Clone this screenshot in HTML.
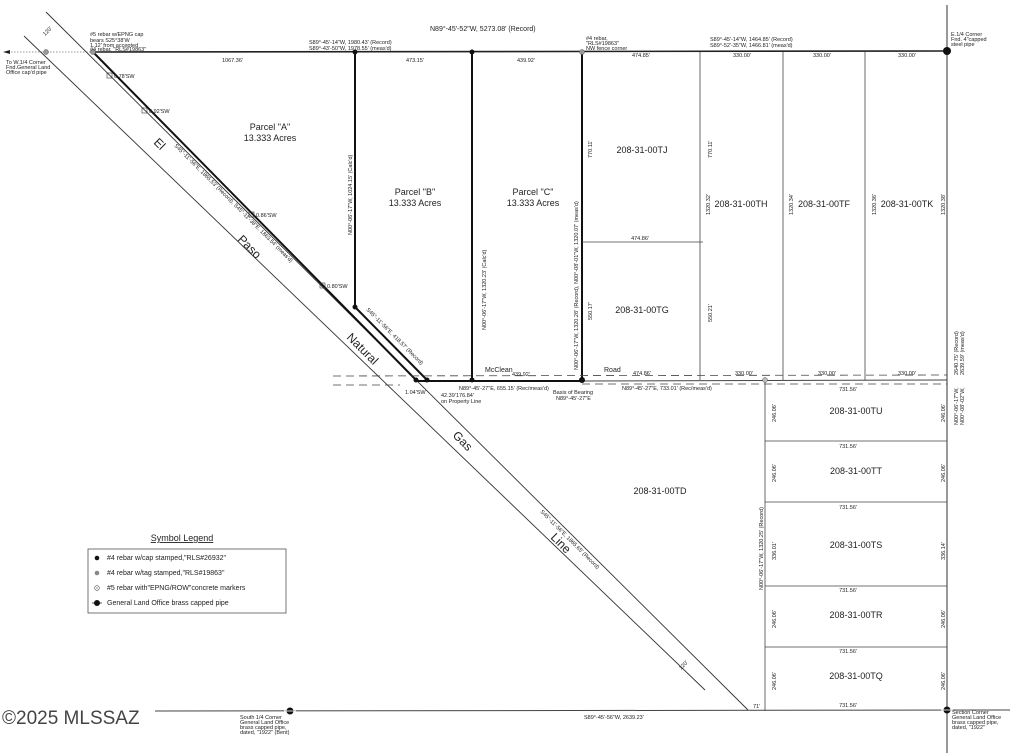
<!DOCTYPE html>
<html><head><meta charset="utf-8"><style>
html,body{margin:0;padding:0;background:#fff;}
svg{display:block;font-family:"Liberation Sans",sans-serif;}
.s{font-size:5.5px;fill:#222;}
.m{font-size:7px;fill:#222;}
.l{font-size:9px;fill:#222;}
.b{font-size:12px;fill:#222;}
</style></head><body>
<svg width="1024" height="753" viewBox="0 0 1024 753" xmlns="http://www.w3.org/2000/svg">
<rect width="1024" height="753" fill="#fff"/>
<!-- top line -->
<line x1="5" y1="52" x2="93" y2="52" stroke="#777" stroke-width="0.8" stroke-dasharray="1.5,1.5"/>
<path d="M3 52 L10 50 L10 54 Z" fill="#222"/>
<line x1="93" y1="52" x2="947" y2="51" stroke="#222" stroke-width="1.6"/>
<line x1="947" y1="5" x2="947" y2="753" stroke="#333" stroke-width="1"/>
<!-- bottom line -->
<line x1="155" y1="711" x2="1010" y2="710" stroke="#444" stroke-width="1"/>
<!-- gas line -->
<line x1="46" y1="12" x2="748" y2="710" stroke="#333" stroke-width="0.9"/>
<line x1="24" y1="36" x2="705" y2="690" stroke="#333" stroke-width="0.9"/>
<!-- parcel A diag -->
<line x1="93" y1="52" x2="416" y2="380" stroke="#111" stroke-width="2"/>
<line x1="355" y1="307" x2="427" y2="380" stroke="#111" stroke-width="2"/>
<!-- thick verticals -->
<line x1="355" y1="52" x2="355" y2="307" stroke="#111" stroke-width="2"/>
<line x1="472" y1="52" x2="472" y2="380" stroke="#111" stroke-width="2"/>
<line x1="582" y1="52" x2="582" y2="380" stroke="#111" stroke-width="2"/>
<line x1="416" y1="381" x2="582" y2="381" stroke="#111" stroke-width="2"/>
<!-- road -->
<line x1="582" y1="381" x2="947" y2="380" stroke="#444" stroke-width="1"/>
<line x1="333" y1="376" x2="947" y2="375" stroke="#444" stroke-width="0.8" stroke-dasharray="8,5"/>
<line x1="333" y1="385" x2="400" y2="385" stroke="#444" stroke-width="0.8" stroke-dasharray="8,5"/>
<line x1="582" y1="384" x2="947" y2="384" stroke="#444" stroke-width="0.8" stroke-dasharray="8,5"/>
<!-- thin verticals -->
<line x1="700" y1="52" x2="700" y2="380" stroke="#444" stroke-width="0.8"/>
<line x1="783" y1="52" x2="783" y2="380" stroke="#444" stroke-width="0.8"/>
<line x1="865" y1="52" x2="865" y2="380" stroke="#444" stroke-width="0.8"/>
<line x1="582" y1="242" x2="703" y2="242" stroke="#444" stroke-width="0.8"/>
<!-- lower lots -->
<line x1="765" y1="381" x2="765" y2="711" stroke="#444" stroke-width="0.8"/>
<line x1="765" y1="441" x2="947" y2="441" stroke="#444" stroke-width="0.8"/>
<line x1="765" y1="502" x2="947" y2="502" stroke="#444" stroke-width="0.8"/>
<line x1="765" y1="586" x2="947" y2="586" stroke="#444" stroke-width="0.8"/>
<line x1="765" y1="647" x2="947" y2="647" stroke="#444" stroke-width="0.8"/>
<!-- dots -->
<g fill="#111">
<circle cx="355" cy="52" r="2.5"/><circle cx="472" cy="52" r="2.5"/>
<circle cx="355" cy="307" r="2.5"/><circle cx="472" cy="380" r="2.5"/>
<circle cx="582" cy="380" r="3"/><circle cx="416" cy="380" r="2.5"/><circle cx="427" cy="380" r="2.5"/>
<circle cx="947" cy="51" r="4"/>
</g>
<circle cx="582" cy="52" r="2.5" fill="#999" stroke="#555" stroke-width="0.5"/>
<circle cx="46" cy="52" r="2.5" fill="#999" stroke="#555" stroke-width="0.5"/>
<circle cx="93" cy="52" r="2.5" fill="#999" stroke="#555" stroke-width="0.5"/>
<circle cx="765" cy="380" r="2.5" fill="#bbb" stroke="#555" stroke-width="0.5"/>
<circle cx="947" cy="710" r="3.5" fill="#111"/><line x1="941" y1="710" x2="953" y2="710" stroke="#fff" stroke-width="0.8"/>
<circle cx="290" cy="711" r="3.5" fill="#111"/><line x1="284" y1="711" x2="296" y2="711" stroke="#fff" stroke-width="0.8"/>
<!-- small boxes -->
<g fill="none" stroke="#333" stroke-width="0.6">
<rect x="107" y="73" width="5" height="5"/><rect x="142" y="108" width="5" height="5"/>
<rect x="249" y="212" width="5" height="5"/><rect x="320" y="283" width="5" height="5"/>
</g>
<text class="s" x="114" y="78">0.78'SW</text>
<text class="s" x="149" y="113">0.92'SW</text>
<text class="s" x="256" y="217">0.86'SW</text>
<text class="s" x="327" y="288">0.80'SW</text>
<!-- top labels -->
<text class="s" x="90" y="36">#5 rebar w/EPNG cap</text>
<text class="s" x="90" y="42">bears S25°38'W</text>
<text class="s" x="90" y="47">1.12' from accepted</text>
<text class="s" x="90" y="51">#4 rebar, "RLS#19863"</text>
<text class="s" x="6" y="64">To W.1/4 Corner</text>
<text class="s" x="6" y="69">Fnd.General Land</text>
<text class="s" x="6" y="74">Office cap'd pipe</text>
<text class="s" x="45" y="36" transform="rotate(-45 45 36)">120'</text>
<text class="m" x="430" y="31">N89°-45'-52"W, 5273.08' (Record)</text>
<text class="s" x="309" y="44">S89°-45'-14"W, 1980.43' (Record)</text>
<text class="s" x="309" y="50">S89°-43'-50"W, 1978.55' (meas'd)</text>
<text class="s" x="222" y="62">1067.36'</text>
<text class="s" x="406" y="62">473.15'</text>
<text class="s" x="517" y="62">439.92'</text>
<text class="s" x="586" y="40">#4 rebar,</text>
<text class="s" x="586" y="45">"RLS#19863"</text>
<text class="s" x="586" y="50">NW fence corner</text>
<text class="s" x="632" y="57">474.85'</text>
<text class="s" x="710" y="41">S89°-45'-14"W, 1464.85' (Record)</text>
<text class="s" x="710" y="47">S89°-52'-35"W, 1466.81' (meas'd)</text>
<text class="s" x="733" y="57">330.00'</text>
<text class="s" x="813" y="57">330.00'</text>
<text class="s" x="898" y="57">330.00'</text>
<text class="s" x="951" y="36">E.1/4 Corner</text>
<text class="s" x="951" y="41">Fnd. 4"capped</text>
<text class="s" x="951" y="46">steel pipe</text>
<!-- parcels -->
<text class="l" x="270" y="130" text-anchor="middle">Parcel "A"</text>
<text class="l" x="270" y="141" text-anchor="middle">13.333 Acres</text>
<text class="l" x="415" y="195" text-anchor="middle">Parcel "B"</text>
<text class="l" x="415" y="206" text-anchor="middle">13.333 Acres</text>
<text class="l" x="533" y="195" text-anchor="middle">Parcel "C"</text>
<text class="l" x="533" y="206" text-anchor="middle">13.333 Acres</text>
<text class="l" x="642" y="153" text-anchor="middle">208-31-00TJ</text>
<text class="l" x="642" y="313" text-anchor="middle">208-31-00TG</text>
<text class="l" x="741" y="207" text-anchor="middle">208-31-00TH</text>
<text class="l" x="824" y="207" text-anchor="middle">208-31-00TF</text>
<text class="l" x="907" y="207" text-anchor="middle">208-31-00TK</text>
<text class="l" x="856" y="414" text-anchor="middle">208-31-00TU</text>
<text class="l" x="856" y="474" text-anchor="middle">208-31-00TT</text>
<text class="l" x="856" y="548" text-anchor="middle">208-31-00TS</text>
<text class="l" x="856" y="618" text-anchor="middle">208-31-00TR</text>
<text class="l" x="856" y="679" text-anchor="middle">208-31-00TQ</text>
<text class="l" x="660" y="494" text-anchor="middle">208-31-00TD</text>
<!-- vertical labels -->
<text class="s" transform="translate(352 235) rotate(-90)">N00°-06'-17"W, 1024.15' (Calc'd)</text>
<text class="s" transform="translate(486 330) rotate(-90)">N00°-06'-17"W, 1320.23' (Calc'd)</text>
<text class="s" transform="translate(578 370) rotate(-90)">N00°-06'-17"W, 1320.28' (Record), N00°-08'-01"W, 1320.07' (meas'd)</text>
<text class="s" transform="translate(592 158) rotate(-90)">770.11'</text>
<text class="s" transform="translate(592 320) rotate(-90)">550.17'</text>
<text class="s" transform="translate(712 158) rotate(-90)">770.11'</text>
<text class="s" transform="translate(712 322) rotate(-90)">550.21'</text>
<text class="s" transform="translate(710 215) rotate(-90)">1320.32'</text>
<text class="s" transform="translate(793 215) rotate(-90)">1320.34'</text>
<text class="s" transform="translate(876 215) rotate(-90)">1320.36'</text>
<text class="s" transform="translate(945 215) rotate(-90)">1320.38'</text>
<text class="s" transform="translate(958 375) rotate(-90)">2640.75' (Record)</text>
<text class="s" transform="translate(964 375) rotate(-90)">2639.59' (meas'd)</text>
<text class="s" transform="translate(958 425) rotate(-90)">N00°-06'-17"W,</text>
<text class="s" transform="translate(964 425) rotate(-90)">N00°-08'-02"W,</text>
<text class="s" transform="translate(763 590) rotate(-90)">N00°-06'-17"W, 1320.25' (Record)</text>
<g class="s">
<text transform="translate(776 422) rotate(-90)">246.06'</text>
<text transform="translate(776 482) rotate(-90)">246.06'</text>
<text transform="translate(776 560) rotate(-90)">336.01'</text>
<text transform="translate(776 628) rotate(-90)">246.06'</text>
<text transform="translate(776 690) rotate(-90)">246.06'</text>
<text transform="translate(945 422) rotate(-90)">246.06'</text>
<text transform="translate(945 482) rotate(-90)">246.06'</text>
<text transform="translate(945 560) rotate(-90)">336.14'</text>
<text transform="translate(945 628) rotate(-90)">246.06'</text>
<text transform="translate(945 690) rotate(-90)">246.06'</text>
</g>
<g class="s" text-anchor="middle">
<text x="848" y="391">731.56'</text><text x="848" y="448">731.56'</text>
<text x="848" y="509">731.56'</text><text x="848" y="592">731.56'</text>
<text x="848" y="653">731.56'</text><text x="848" y="707">731.56'</text>
<text x="640" y="240">474.86'</text>
</g>
<text class="s" x="753" y="708">71'</text>
<text class="s" x="584" y="719">S89°-45'-56"W, 2639.23'</text>
<text class="s" x="240" y="719">South 1/4 Corner</text>
<text class="s" x="240" y="724">General Land Office</text>
<text class="s" x="240" y="729">brass capped pipe,</text>
<text class="s" x="240" y="734">dated, "1922" (Bent)</text>
<text class="s" x="952" y="714">Section Corner</text>
<text class="s" x="952" y="719">General Land Office</text>
<text class="s" x="952" y="724">brass capped pipe,</text>
<text class="s" x="952" y="729">dated, "1922"</text>
<!-- road labels -->
<text class="m" x="485" y="372">McClean</text>
<text class="s" x="512" y="376">439.92'</text>
<text class="m" x="604" y="372">Road</text>
<text class="s" x="633" y="375">474.86'</text>
<text class="s" x="735" y="375">330.00'</text>
<text class="s" x="818" y="375">330.00'</text>
<text class="s" x="898" y="375">330.00'</text>
<text class="s" x="459" y="390">N89°-45'-27"E, 655.15' (Rec/meas'd)</text>
<text class="s" x="622" y="390">N89°-45'-27"E, 733.01' (Rec/meas'd)</text>
<text class="s" x="553" y="394">Basis of Bearing</text>
<text class="s" x="556" y="400">N89°-45'-27"E</text>
<text class="s" x="405" y="394">1.04'SW</text>
<text class="s" x="441" y="397">42.39'</text>
<text class="s" x="456" y="397">176.84'</text>
<text class="s" x="441" y="403">on Property Line</text>
<!-- diagonal labels -->
<text class="b" transform="translate(153 143) rotate(45)">El</text>
<text class="b" transform="translate(237 240) rotate(45)">Paso</text>
<text class="b" transform="translate(346 338) rotate(45)">Natural</text>
<text class="b" transform="translate(452 436) rotate(45)">Gas</text>
<text class="b" transform="translate(550 538) rotate(45)">Line</text>
<text class="s" transform="translate(174 146) rotate(45)">S45°-11'-56"E, 1865.53' (Record), S45°-11'-38"E, 1863.54' (meas'd)</text>
<text class="s" transform="translate(366 310) rotate(45)">S45°-11'-56"E, 418.57' (Record)</text>
<text class="s" transform="translate(540 512) rotate(45)">S45°-11'-56"E, 1865.65' (Record)</text>
<text class="s" transform="translate(681 670) rotate(-45)">120'</text>
<!-- legend -->
<text class="l" x="182" y="541" text-anchor="middle" text-decoration="underline">Symbol Legend</text>
<rect x="88" y="549" width="198" height="64" fill="none" stroke="#555" stroke-width="0.8"/>
<circle cx="97" cy="558" r="2.3" fill="#111"/>
<circle cx="97" cy="573" r="2.3" fill="#888"/>
<circle cx="97" cy="588" r="2.3" fill="none" stroke="#444" stroke-width="0.6"/><circle cx="97" cy="588" r="0.6" fill="#444"/>
<circle cx="97" cy="603" r="3" fill="#111"/><line x1="92" y1="603" x2="102" y2="603" stroke="#111" stroke-width="0.7"/>
<text class="m" x="107" y="560">#4 rebar w/cap stamped,"RLS#26932"</text>
<text class="m" x="107" y="575">#4 rebar w/tag stamped,"RLS#19863"</text>
<text class="m" x="107" y="590">#5 rebar with"EPNG/ROW"concrete markers</text>
<text class="m" x="107" y="605">General Land Office brass capped pipe</text>
<text x="2" y="724" style="font-size:19px;fill:#444;">©2025 MLSSAZ</text>
</svg>
</body></html>
